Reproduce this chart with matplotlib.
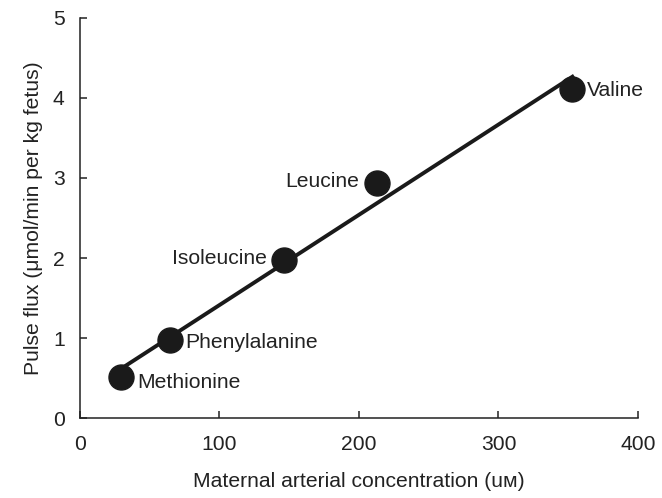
import numpy as np
import matplotlib.pyplot as plt

plt.rcParams['font.family'] = ['Liberation Sans', 'DejaVu Sans']

# amino acids: maternal arterial concentration vs pulse flux
names = ['Methionine', 'Phenylalanine', 'Isoleucine', 'Leucine', 'Valine']
conc = np.array([29.4, 64.5, 146, 213, 353])
flux = np.array([0.51, 0.975, 1.975, 2.94, 4.11])

# label offsets in pixels, and alignment
offsets = [(16, -5), (15, -2), (-17, 2), (-18, 1), (15, -1)]
aligns = ['left', 'left', 'right', 'right', 'left']

fig = plt.figure(figsize=(6.62, 4.98), dpi=100)
ax = fig.add_axes([0.1208, 0.1606, 0.8429, 0.8033])

# regression line over the data range
slope, icept = np.polyfit(conc, flux, 1)
xs = np.array([conc.min(), conc.max()])
ax.plot(xs, slope * xs + icept, color='#1a1a1a', lw=2.8, zorder=2)
ax.plot(conc, flux, 'o', color='#1a1a1a', ms=18, zorder=3)

fs = 15.2
for n, x, y, off, ha in zip(names, conc, flux, offsets, aligns):
    ax.annotate(n, (x, y), xytext=off, textcoords='offset pixels',
                ha=ha, va='center', fontsize=fs, color='#222222')

ax.set_xlim(0, 400)
ax.set_ylim(0, 5)
ax.set_xticks([0, 100, 200, 300, 400])
ax.set_yticks([0, 1, 2, 3, 4, 5])
ax.spines['top'].set_visible(False)
ax.spines['right'].set_visible(False)
for s in ['left', 'bottom']:
    ax.spines[s].set_linewidth(1.1)
    ax.spines[s].set_color('#222222')
ax.tick_params(direction='in', length=5, width=1.1, colors='#222222',
               labelsize=fs)
ax.tick_params(axis='x', pad=12)
ax.tick_params(axis='y', pad=11)

ax.set_xlabel('Maternal arterial concentration (u\u1d0d)', fontsize=fs,
              color='#222222', labelpad=13)
ax.set_ylabel('Pulse flux (\u03bcmol/min per kg fetus)', fontsize=fs,
              color='#222222', labelpad=7)

fig.savefig('out.png', dpi=100)
